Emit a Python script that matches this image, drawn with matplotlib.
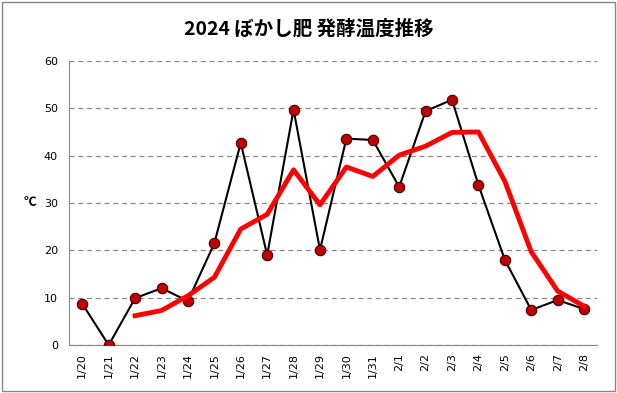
import matplotlib
matplotlib.use("Agg")
import matplotlib.pyplot as plt
from matplotlib.patches import Rectangle

# Data
dates = ["1/20", "1/21", "1/22", "1/23", "1/24", "1/25", "1/26", "1/27", "1/28", "1/29",
         "1/30", "1/31", "2/1", "2/2", "2/3", "2/4", "2/5", "2/6", "2/7", "2/8"]
temps = [8.7, 0.0, 9.9, 12.0, 9.3, 21.5, 42.7, 19.0, 49.7, 20.1,
         43.6, 43.3, 33.4, 49.4, 51.8, 33.8, 18.0, 7.4, 9.5, 7.6]
# trend line starts at 1/22
trend = [None, None, 6.2, 7.3, 10.4, 14.3, 24.5, 27.6, 37.0, 29.6,
         37.6, 35.6, 40.1, 42.0, 44.9, 45.0, 34.6, 19.7, 11.4, 8.2]
y_ticks = [0, 10, 20, 30, 40, 50, 60]

plt.rcParams['font.family'] = ['DejaVu Sans']

fig = plt.figure(figsize=(6.17, 3.93), dpi=100)
ax = fig.add_axes([0.112, 0.122, 0.856, 0.723])

# outer frame
frame = Rectangle((0.003, 0.004), 0.993, 0.99, transform=fig.transFigure,
                  fill=False, edgecolor="#888888", linewidth=1)
fig.patches.append(frame)

x = list(range(len(dates)))
tx = [i for i, v in zip(x, trend) if v is not None]
tv = [v for v in trend if v is not None]

ax.plot(x, temps, color="black", linewidth=1.5, marker="o", markersize=7.5,
        markerfacecolor="#C00000", markeredgecolor="#400000", markeredgewidth=0.8, zorder=3)
ax.plot(tx, tv, color="#FF0000", linewidth=3.5, zorder=4)

ax.set_xlim(-0.5, len(dates) - 0.5)
ax.set_ylim(0, 60)
ax.set_yticks(y_ticks)
ax.set_xticks(x)
ax.set_xticklabels(dates, rotation=90, fontsize=8)
ax.tick_params(axis="y", labelsize=8, length=0, pad=8)
ax.tick_params(axis="x", length=0, pad=6)
ax.yaxis.grid(True, linestyle=(0, (4, 3)), color="#888888", linewidth=0.9)
ax.set_axisbelow(True)

for s in ["top", "right"]:
    ax.spines[s].set_visible(False)
ax.spines["left"].set_color("#888888")
ax.spines["bottom"].set_color("#888888")

ax.set_ylabel("℃", rotation=0, fontsize=9, labelpad=10, va="center", fontweight="bold",
              family=["Noto Sans CJK JP", "DejaVu Sans"])

fig.text(0.5, 0.925, "2024 ぼかし肥 発酵温度推移", ha="center", va="center",
         fontsize=14, fontweight="bold", family=["Noto Sans CJK JP", "DejaVu Sans"])

fig.savefig("out.png", dpi=100)
